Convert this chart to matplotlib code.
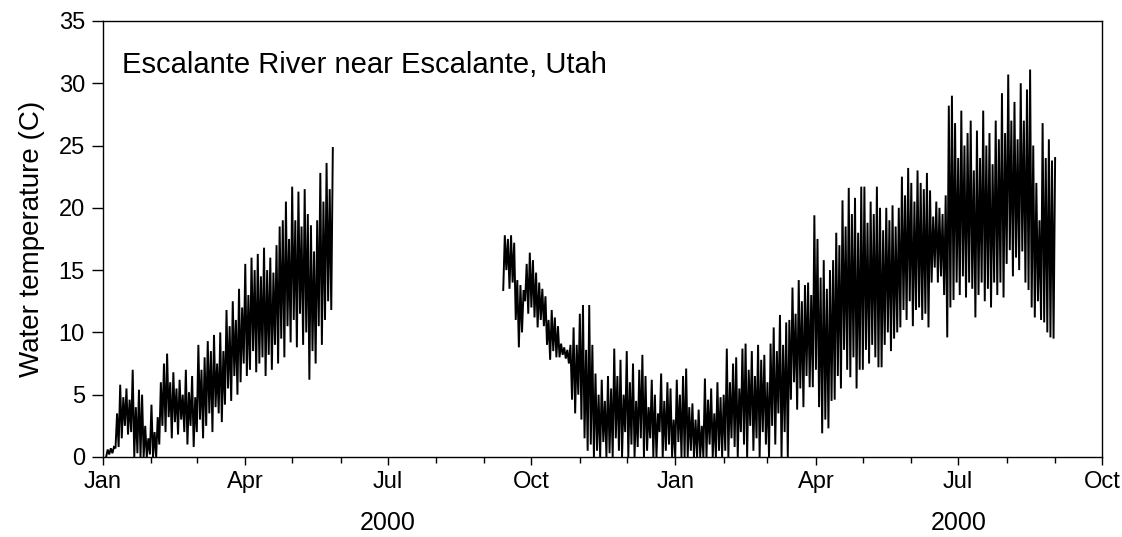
import datetime as dt

import matplotlib
matplotlib.use("Agg")
import matplotlib.pyplot as plt
import matplotlib.dates as mdates
import matplotlib.ticker as mticker

plt.rcParams["font.family"] = ["Liberation Sans", "DejaVu Sans"]

# Water temperature (deg C), one reading pair every other day:
# the daily low on the first day, the daily high on the day after.
seg1_start = dt.date(2000, 1, 3)
seg1_low = [0.0, 0.2, 0.3, 0.7, 0.8, 1.5, 2.5, 1.8, 2.0, 0.0,
            0.3, 0.0, 0.0, 0.0, 0.2, 0.0, 0.0, 1.0, 2.5, 2.0,
            3.2, 1.5, 2.8, 1.8, 3.0, 2.0, 1.0, 2.5, 0.8, 2.0,
            3.0, 1.5, 2.5, 3.5, 2.0, 4.0, 3.5, 2.8, 4.2, 5.5,
            4.5, 6.5, 5.0, 6.0, 7.5, 6.5, 7.0, 8.5, 6.8, 7.5,
            8.0, 6.5, 8.2, 7.0, 9.0, 7.5, 9.5, 8.0, 10.5, 9.2,
            11.0, 8.8, 11.5, 9.0, 10.0, 6.2, 8.5, 7.5, 10.5, 9.0,
            11.0, 12.5, 11.8]
seg1_high = [0.6, 0.7, 0.8, 3.5, 5.8, 4.8, 5.5, 4.6, 7.0, 4.0,
             5.4, 5.0, 2.5, 1.5, 4.2, 2.0, 3.2, 6.0, 7.5, 8.3,
             6.0, 6.8, 5.5, 6.2, 5.0, 7.0, 5.2, 6.5, 4.8, 9.0,
             7.0, 8.0, 9.3, 8.5, 9.8, 7.5, 10.0, 8.5, 11.8, 10.5,
             12.5, 11.0, 13.5, 12.0, 15.5, 13.0, 16.0, 15.0, 16.3, 14.5,
             16.8, 15.0, 16.0, 14.8, 17.0, 18.5, 19.0, 20.5, 17.5, 21.7,
             19.0, 21.3, 18.5, 21.5, 19.5, 18.6, 16.5, 19.0, 22.8, 20.5,
             23.6, 21.5, 24.8]

seg2_start = dt.date(2000, 9, 13)
seg2_low = [13.4, 15.0, 13.5, 14.0, 11.0, 8.8, 10.0, 12.5, 11.5, 12.0,
            11.2, 10.4, 11.0, 10.5, 9.0, 7.8, 8.5, 8.0, 8.0, 8.2,
            7.9, 7.5, 4.6, 3.5, 5.0, 3.0, 1.5, 0.5, 1.0, 0.0,
            0.5, 0.0, 1.2, 0.0, 0.3, 0.0, 1.5, 0.5, 0.0, 2.0,
            0.0, 1.0, 0.0, 0.8, 1.5, 0.0, 0.5, 1.5, 0.0, 0.0,
            2.0, 0.0, 0.5, 1.0, 0.0, 0.0, 1.2, 0.0, 0.0, 0.0,
            0.5, 0.0, 0.0, 0.0, 0.0, 0.0, 1.0, 0.0, 0.0, 0.5,
            0.0, 0.5, 0.0, 1.5, 0.8, 0.0, 2.0, 1.0, 0.0, 2.5,
            0.5, 1.5, 0.0, 2.0, 1.0, 0.0, 2.5, 1.0, 3.5, 0.0,
            2.0, 0.0, 4.6, 6.0, 3.8, 5.5, 4.0, 6.5, 5.6, 5.6,
            7.0, 4.0, 1.9, 3.0, 2.3, 4.5, 4.6, 6.5, 5.5, 8.6,
            7.0, 6.4, 8.0, 5.5, 7.0, 7.0, 8.6, 7.5, 9.0, 8.0,
            7.2, 7.2, 9.0, 10.0, 8.5, 9.5, 10.0, 10.4, 11.8, 11.0,
            12.5, 10.5, 11.8, 12.0, 11.0, 11.5, 10.4, 14.0, 15.2, 14.0,
            14.5, 13.0, 9.6, 12.0, 12.6, 14.0, 13.0, 14.5, 12.8, 14.0,
            13.5, 11.2, 13.0, 14.0, 12.5, 13.5, 12.0, 14.0, 13.0, 14.0,
            12.8, 15.5, 16.6, 14.5, 16.0, 15.0, 16.5, 14.0, 13.4, 12.0,
            11.2, 12.5, 11.0, 10.8, 10.0, 9.6, 9.5]
seg2_high = [17.8, 17.5, 17.8, 17.2, 14.2, 13.8, 13.4, 15.5, 16.4, 15.8,
             14.8, 14.0, 13.5, 12.9, 11.0, 11.8, 11.2, 10.5, 9.1, 8.8,
             8.6, 9.0, 10.4, 9.0, 11.5, 12.2, 8.6, 12.2, 9.0, 6.7,
             5.0, 6.2, 4.5, 6.5, 5.5, 8.7, 6.5, 7.8, 5.0, 8.5,
             6.0, 7.5, 4.5, 7.0, 8.2, 6.5, 4.0, 6.2, 5.0, 3.5,
             6.7, 4.5, 6.0, 5.5, 3.0, 6.2, 5.0, 6.5, 7.1, 4.0,
             4.3, 3.0, 3.8, 2.5, 6.3, 4.6, 5.5, 3.5, 6.0, 4.8,
             5.0, 8.7, 6.0, 7.5, 8.0, 5.5, 8.7, 9.1, 7.0, 8.5,
             6.5, 9.0, 7.8, 8.2, 6.0, 9.1, 10.4, 8.5, 11.4, 9.0,
             10.8, 11.0, 13.6, 11.5, 14.2, 12.5, 13.8, 14.0, 13.0, 19.4,
             17.5, 14.4, 15.8, 13.5, 15.0, 15.8, 18.0, 17.0, 20.6, 18.5,
             21.6, 19.5, 20.8, 18.0, 21.7, 21.7, 18.8, 20.5, 19.5, 21.7,
             20.0, 18.2, 20.0, 19.0, 20.2, 18.5, 20.0, 22.5, 21.0, 23.2,
             22.0, 20.5, 23.0, 22.0, 21.5, 22.8, 21.4, 19.3, 20.5, 20.0,
             19.5, 21.0, 28.2, 29.0, 26.8, 24.0, 27.8, 25.0, 26.0, 27.0,
             23.0, 26.2, 24.0, 27.8, 25.0, 26.0, 23.5, 27.0, 25.5, 29.2,
             26.0, 30.7, 27.0, 28.5, 25.5, 30.0, 27.0, 29.5, 31.1, 25.0,
             22.0, 19.0, 26.8, 24.0, 25.5, 23.8, 24.0]

month_labels = ["Jan", "Apr", "Jul", "Oct", "Jan", "Apr", "Jul", "Oct"]
year_labels = ["2000", "2000"]
title = "Escalante River near Escalante, Utah"


def zigzag(start, lows, highs):
    times, temps = [], []
    for i, (lo, hi) in enumerate(zip(lows, highs)):
        day = start + dt.timedelta(days=2 * i)
        times += [day, day + dt.timedelta(days=1)]
        temps += [lo, hi]
    return times, temps


fig = plt.figure(figsize=(11.22, 5.37), dpi=100)
ax = fig.add_axes([0.0918, 0.149, 0.8904, 0.812])

for start, lows, highs in [(seg1_start, seg1_low, seg1_high),
                           (seg2_start, seg2_low, seg2_high)]:
    t, v = zigzag(start, lows, highs)
    ax.plot(t, v, color="black", lw=1.4, solid_joinstyle="miter")

ax.set_xlim(dt.date(2000, 1, 1), dt.date(2001, 10, 1))
ax.set_ylim(0, 35)

ax.xaxis.set_major_locator(mdates.MonthLocator(bymonth=[1, 4, 7, 10]))
ax.xaxis.set_minor_locator(mdates.MonthLocator())
ax.xaxis.set_major_formatter(mticker.FixedFormatter(month_labels))
ax.set_yticks(range(0, 36, 5))

ax.tick_params(axis="both", which="major", direction="out", length=6,
               width=1, labelsize=17, pad=4)
ax.tick_params(axis="x", which="minor", direction="out", length=4, width=1)
ax.tick_params(axis="y", length=8, pad=5)

for spine in ax.spines.values():
    spine.set_linewidth(1.0)
    spine.set_color("black")

ax.set_ylabel("Water temperature (C)", fontsize=20, labelpad=10)

for year, mid in zip(year_labels, [dt.date(2000, 7, 1), dt.date(2001, 7, 1)]):
    ax.text(mid, -0.151, year, transform=ax.get_xaxis_transform(),
            ha="center", va="center", fontsize=18)

ax.text(0.019, 0.899, title, transform=ax.transAxes, ha="left",
        va="center", fontsize=21)

fig.savefig("out.png", dpi=100)
